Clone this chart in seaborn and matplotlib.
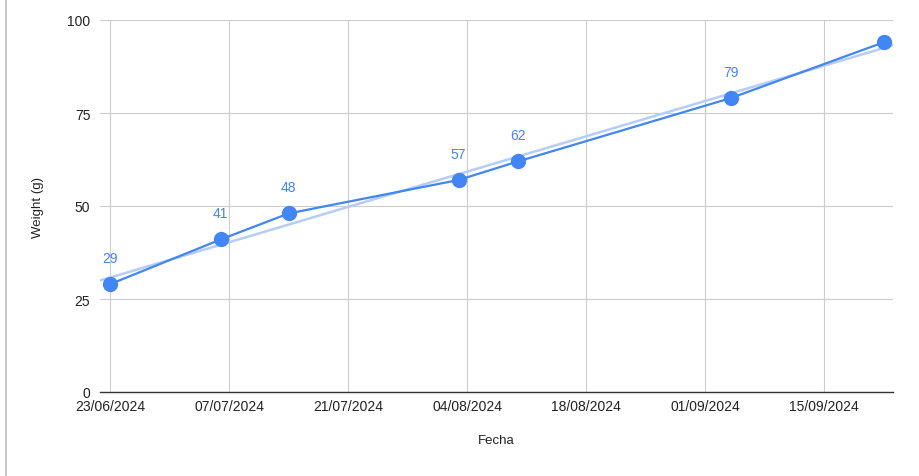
# Weight over time, line with linear trend
import pandas as pd
import matplotlib
matplotlib.use('Agg')
import matplotlib.pyplot as plt
import matplotlib.dates as mdates
from matplotlib.lines import Line2D
import seaborn as sns

fechas = ['2024-06-23', '2024-07-06', '2024-07-14', '2024-08-03',
          '2024-08-10', '2024-09-04', '2024-09-22']
pesos = [29, 41, 48, 57, 62, 79, 94]
etiquetas = ['29', '41', '48', '57', '62', '79', '']

ticks_x = ['2024-06-23', '2024-07-07', '2024-07-21', '2024-08-04',
           '2024-08-18', '2024-09-01', '2024-09-15']
ticks_y = [0, 25, 50, 75, 100]

df = pd.DataFrame({'fecha': pd.to_datetime(fechas), 'peso': pesos})
df['num'] = mdates.date2num(df['fecha'])

sns.set_style('white')
plt.rcParams['font.family'] = ['Liberation Sans', 'DejaVu Sans']

azul = '#4285F4'
fig = plt.figure(figsize=(9.2, 4.77), dpi=100)
ax = fig.add_axes([100 / 920, 84 / 477, 793 / 920, 372 / 477])

x0 = mdates.date2num(pd.Timestamp('2024-06-23')) - 1.2
x1 = mdates.date2num(pd.Timestamp('2024-09-23')) + 0.1
ax.set_xlim(x0, x1)
ax.set_ylim(0, 100)

# trendline
sns.regplot(data=df, x='num', y='peso', ax=ax, scatter=False, ci=None,
            truncate=False, color='#b5cdf7', line_kws={'lw': 1.8, 'zorder': 2})

sns.lineplot(data=df, x='num', y='peso', ax=ax, color=azul, lw=1.6,
             marker='o', markersize=11, markeredgewidth=0, zorder=3)

for xv, yv, t in zip(df['num'], df['peso'], etiquetas):
    if t:
        ax.annotate(t, (xv, yv), xytext=(0, 19), textcoords='offset points',
                    ha='center', va='center', color=azul, fontsize=10,
                    zorder=1.5,
                    arrowprops=dict(arrowstyle='-', color='#e6e6e6', lw=0.8,
                                    shrinkA=6, shrinkB=6))

ax.set_xticks(mdates.date2num(pd.to_datetime(ticks_x)))
ax.set_xticklabels(pd.to_datetime(ticks_x).strftime('%d/%m/%Y'))
ax.set_yticks(ticks_y)
ax.grid(True, color='#cccccc', lw=0.8)
ax.set_axisbelow(True)
for s in ['top', 'right', 'left']:
    ax.spines[s].set_visible(False)
ax.spines['bottom'].set_color('#333333')
ax.spines['bottom'].set_linewidth(1.0)
ax.spines['bottom'].set_zorder(4)
ax.tick_params(axis='both', length=0, labelsize=10, colors='#222222')
ax.tick_params(axis='x', pad=5)
ax.tick_params(axis='y', pad=7)

ax.set_xlabel('Fecha', fontsize=9.5, color='#222222', labelpad=15)
ax.set_ylabel('Weight (g)', fontsize=9.5, color='#222222', labelpad=17)

# spreadsheet border at left
fig.add_artist(Line2D([6 / 920, 6 / 920], [0, 1], color='#c8c8c8', lw=1.5))

fig.savefig('out.png', dpi=100)
